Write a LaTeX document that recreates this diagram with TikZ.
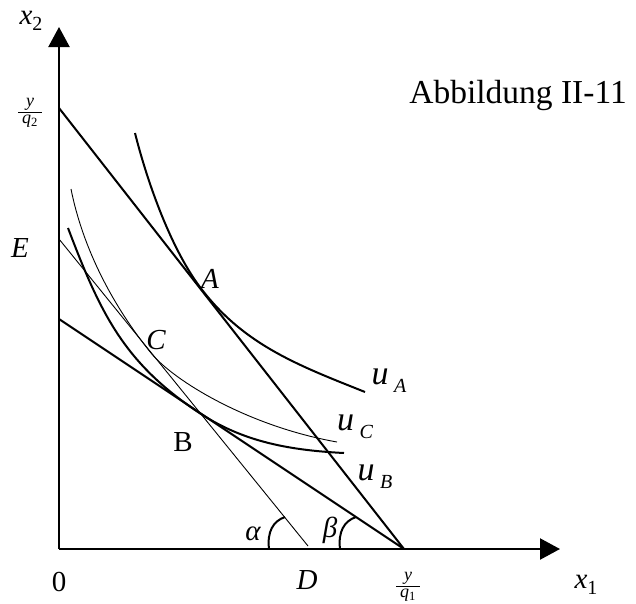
\documentclass[tikz,border=0pt]{standalone}
\usepackage{fontspec}
\setmainfont{Liberation Serif}
\usetikzlibrary{arrows.meta}
\newcommand{\lblsize}{\fontsize{29}{32}\selectfont}
\newcommand{\subsize}{\fontsize{20}{22}\selectfont}
\newcommand{\myfrac}[2]{{\fontsize{18}{18}\selectfont\setlength{\tabcolsep}{4pt}\setlength{\arrayrulewidth}{0.8pt}\renewcommand{\arraystretch}{0.9}\begin{tabular}{c}#1\\\hline #2\end{tabular}}}
\begin{document}
\begin{tikzpicture}[x=1pt,y=-1pt,
  axis/.style={line width=2.2pt,-{Triangle[length=20pt,width=21pt]}},
  budget/.style={line width=2pt},
  thinline/.style={line width=0.9pt},
  indiff/.style={line width=2pt},
  thincurve/.style={line width=0.9pt},
  anglemark/.style={line width=2pt},
  lbl/.style={inner sep=0pt,font=\lblsize\itshape},
  fraclbl/.style={inner sep=0pt},
  title/.style={inner sep=0pt,font=\fontsize{33.5}{36}\selectfont}]
\useasboundingbox (0,0) rectangle (636,603);
% key points
\coordinate (O) at (59,549);
\coordinate (Ytip) at (59,27);
\coordinate (Xtip) at (560,549);
\coordinate (P2) at (59,108);
\coordinate (P1) at (404,549);
\coordinate (Ept) at (59,239);
\coordinate (Dpt) at (308,546);
\coordinate (Lpt) at (59,319);
\coordinate (Apt) at (203,291);
\coordinate (Bpt) at (198,412);
\coordinate (Cpt) at (151,353);
% axes
\draw[axis] (O) -- (Ytip);
\draw[axis] (O) -- (Xtip);
% budget lines
\draw[budget] (P2) -- (P1);
\draw[budget] (Lpt) -- (P1);
\draw[thinline] (Ept) -- (Dpt);
% indifference curves
\draw[indiff] (135,133) .. controls (147.5,183) and (172,252) .. (Apt)
  .. controls (246,346) and (300,366) .. (365,392);
\draw[thincurve] (71,189) .. controls (83,249) and (113,306) .. (Cpt)
  .. controls (173,380) and (247,426) .. (337,442);
\draw[indiff] (68,228) .. controls (100,312) and (123,362) .. (Bpt)
  .. controls (240,440) and (284,450) .. (344,453);
% angle marks
\draw[anglemark] (269,549) .. controls (267,532) and (273,521) .. (285,517);
\draw[anglemark] (340,549) .. controls (338,532) and (344,521) .. (356,517);
% labels
\node[lbl] (lx2) at (31,21) {x\raisebox{-6pt}{\subsize\upshape 2}};
\node[fraclbl] (lq2) at (30,112) {\myfrac{\textit{y}}{\textit{q}\textsubscript{2}}};
\node[lbl] (lE) at (20,248) {E};
\node[lbl] (lA) at (210,279) {A};
\node[lbl] (lC) at (156,340) {C};
\node[lbl,font=\lblsize\upshape] (lB) at (183,442) {B};
\node[lbl] (luA) at (389,381) {\fontsize{34}{36}\selectfont u\,\raisebox{-8pt}{\subsize A}};
\node[lbl] (luC) at (355,427) {\fontsize{34}{36}\selectfont u\,\raisebox{-8pt}{\subsize C}};
\node[lbl] (luB) at (375,477) {\fontsize{34}{36}\selectfont u\,\raisebox{-8pt}{\subsize B}};
\node[lbl] (lalpha) at (253,534) {α};
\node[lbl] (lbeta) at (330,530) {β};
\node[lbl,font=\lblsize\upshape] (l0) at (59,582) {0};
\node[lbl] (lD) at (307,580) {D};
\node[fraclbl] (lq1) at (408,586) {\myfrac{\textit{y}}{\textit{q}\textsubscript{1}}};
\node[lbl] (lx1) at (586,585) {x\raisebox{-6pt}{\subsize\upshape 1}};
\node[title,anchor=base east] (ttl) at (627,103) {Abbildung II-11};
\end{tikzpicture}
\end{document}
